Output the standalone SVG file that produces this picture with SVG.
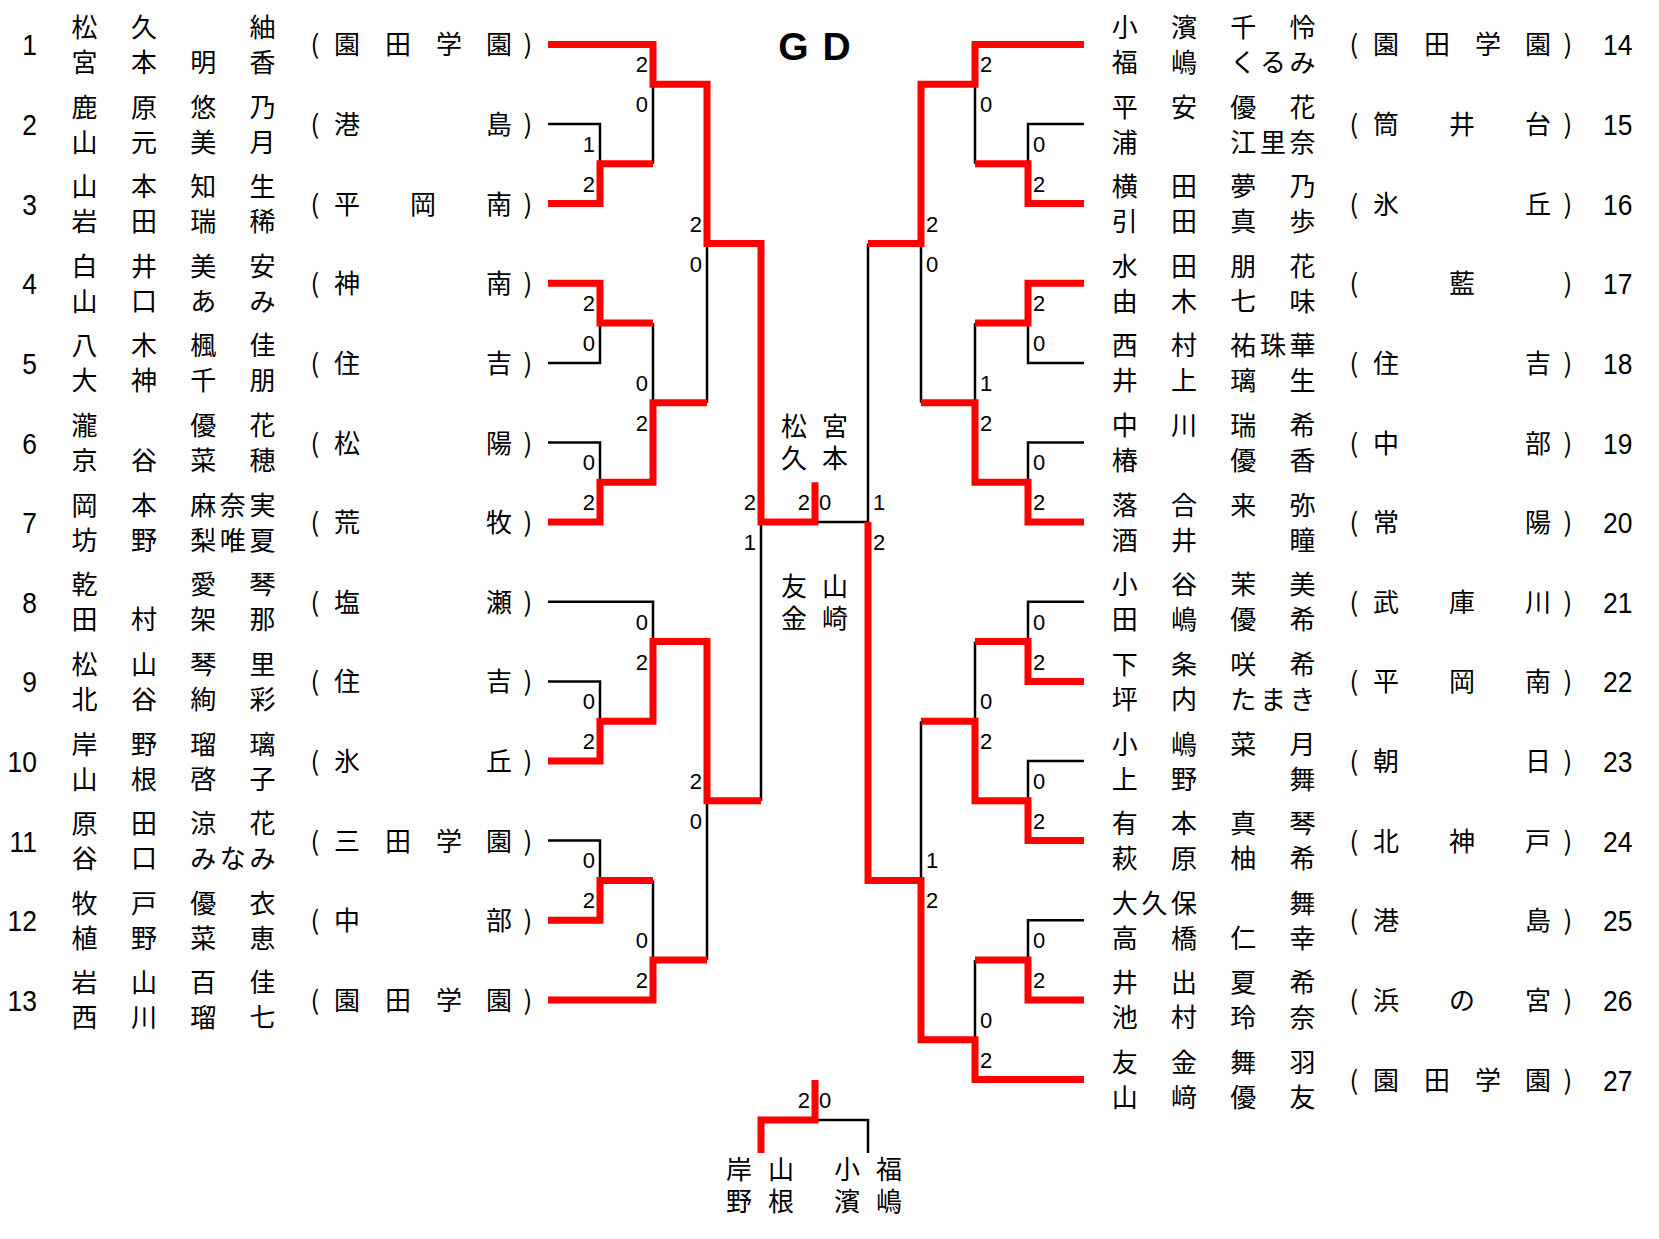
<svg xmlns="http://www.w3.org/2000/svg" width="1659" height="1239" viewBox="0 0 1659 1239">
<style>
.r{stroke:#ff0000;stroke-width:7;fill:none;stroke-linejoin:miter}
.k{stroke:#000;stroke-width:2.5;fill:none}
.n{font-family:'Noto Sans CJK JP','Noto Sans CJK SC',sans-serif;font-size:26px;text-anchor:middle;fill:#000}
.v{font-family:'Noto Sans CJK JP','Noto Sans CJK SC',sans-serif;font-size:26px;writing-mode:vertical-rl;text-anchor:start;letter-spacing:6px;fill:#000}
.num{font-family:'Liberation Sans Narrow','Liberation Sans',sans-serif;font-size:30px;fill:#000}
.nl{text-anchor:end}
.sl{font-family:'Liberation Sans Narrow','Liberation Sans',sans-serif;font-size:22px;text-anchor:end;fill:#000}
.sr{font-family:'Liberation Sans Narrow','Liberation Sans',sans-serif;font-size:22px;text-anchor:start;fill:#000}
.title{font-family:'Liberation Sans',Arial,sans-serif;font-size:39px;font-weight:bold;text-anchor:middle;fill:#000}
</style>
<rect width="1659" height="1239" fill="#fff"/>
<g id="title"><text class="title" y="60"><tspan x="793.5">G</tspan><tspan x="836.5">D</tspan></text></g>

<g id="connectors">
<g id="black-lines">
<path class="k" d="M548,124H600V163.8"/>
<path class="k" d="M548,362.9H600V323.1"/>
<path class="k" d="M548,442.5H600V482.3"/>
<path class="k" d="M548,601.8H653V641.6"/>
<path class="k" d="M548,681.4H600V721.2"/>
<path class="k" d="M548,840.6H600V880.4"/>
<path class="k" d="M653,84.2V163.8"/>
<path class="k" d="M653,323.1V402.7"/>
<path class="k" d="M653,880.4V960"/>
<path class="k" d="M707,243.5V402.7"/>
<path class="k" d="M707,800.8V960"/>
<path class="k" d="M761,522.1V800.8"/>
<path class="k" d="M815,522.1H868V243.5"/>
<path class="k" d="M1084,124H1028V163.8"/>
<path class="k" d="M1084,362.9H1028V323.1"/>
<path class="k" d="M1084,442.5H1028V482.3"/>
<path class="k" d="M1084,601.8H1028V641.6"/>
<path class="k" d="M1084,761H1028V800.8"/>
<path class="k" d="M1084,920.2H1028V960"/>
<path class="k" d="M975,84.2V163.8"/>
<path class="k" d="M975,323.1V402.7"/>
<path class="k" d="M975,641.6V721.2"/>
<path class="k" d="M975,960V1039.7"/>
<path class="k" d="M921,243.5V402.7"/>
<path class="k" d="M921,721.2V880.4"/>
<path class="k" d="M815,1120H868V1153"/>
</g>
<g id="red-lines">
<path class="r" d="M548,44.4H653V84.2H707V243.5H761V522.1H815V482.3"/>
<path class="r" d="M548,203.6H600V163.8H653"/>
<path class="r" d="M548,283.3H600V323.1H653"/>
<path class="r" d="M548,522.1H600V482.3H653V402.7H707"/>
<path class="r" d="M548,761H600V721.2H653V641.6H707V800.8H761"/>
<path class="r" d="M548,920.2H600V880.4H653"/>
<path class="r" d="M548,999.9H653V960H707"/>
<path class="r" d="M1084,44.4H975V84.2H921V243.5H868"/>
<path class="r" d="M1084,203.6H1028V163.8H975"/>
<path class="r" d="M1084,283.3H1028V323.1H975"/>
<path class="r" d="M1084,522.1H1028V482.3H975V402.7H921"/>
<path class="r" d="M1084,681.4H1028V641.6H975"/>
<path class="r" d="M1084,840.6H1028V800.8H975V721.2H921"/>
<path class="r" d="M1084,999.9H1028V960H975"/>
<path class="r" d="M1084,1079.5H975V1039.7H921V880.4H868V522.1"/>
<path class="r" d="M761,1153V1120H815V1080"/>
</g>
<g id="scores">
<text class="sl" x="595" y="151.8">1</text><text class="sl" x="595" y="191.8">2</text>
<text class="sl" x="595" y="311.1">2</text><text class="sl" x="595" y="351.1">0</text>
<text class="sl" x="595" y="470.3">0</text><text class="sl" x="595" y="510.3">2</text>
<text class="sl" x="595" y="709.2">0</text><text class="sl" x="595" y="749.2">2</text>
<text class="sl" x="595" y="868.4">0</text><text class="sl" x="595" y="908.4">2</text>
<text class="sl" x="648" y="72.2">2</text><text class="sl" x="648" y="112.2">0</text>
<text class="sl" x="648" y="390.7">0</text><text class="sl" x="648" y="430.7">2</text>
<text class="sl" x="648" y="629.6">0</text><text class="sl" x="648" y="669.6">2</text>
<text class="sl" x="648" y="948">0</text><text class="sl" x="648" y="988">2</text>
<text class="sl" x="702" y="231.5">2</text><text class="sl" x="702" y="271.5">0</text>
<text class="sl" x="702" y="788.8">2</text><text class="sl" x="702" y="828.8">0</text>
<text class="sl" x="756" y="510.1">2</text><text class="sl" x="756" y="550.1">1</text>
<text class="sr" x="1033" y="151.8">0</text><text class="sr" x="1033" y="191.8">2</text>
<text class="sr" x="1033" y="311.1">2</text><text class="sr" x="1033" y="351.1">0</text>
<text class="sr" x="1033" y="470.3">0</text><text class="sr" x="1033" y="510.3">2</text>
<text class="sr" x="1033" y="629.6">0</text><text class="sr" x="1033" y="669.6">2</text>
<text class="sr" x="1033" y="788.8">0</text><text class="sr" x="1033" y="828.8">2</text>
<text class="sr" x="1033" y="948">0</text><text class="sr" x="1033" y="988">2</text>
<text class="sr" x="980" y="72.2">2</text><text class="sr" x="980" y="112.2">0</text>
<text class="sr" x="980" y="390.7">1</text><text class="sr" x="980" y="430.7">2</text>
<text class="sr" x="980" y="709.2">0</text><text class="sr" x="980" y="749.2">2</text>
<text class="sr" x="980" y="1027.7">0</text><text class="sr" x="980" y="1067.7">2</text>
<text class="sr" x="926" y="231.5">2</text><text class="sr" x="926" y="271.5">0</text>
<text class="sr" x="926" y="868.4">1</text><text class="sr" x="926" y="908.4">2</text>
<text class="sr" x="873" y="510.1">1</text><text class="sr" x="873" y="550.1">2</text>
<text class="sl" x="810" y="510.1">2</text><text class="sr" x="819" y="510.1">0</text>
<text class="sl" x="810" y="1108">2</text><text class="sr" x="819" y="1108">0</text>
</g>
</g>

<g id="e1" transform="translate(0,44.4)"><text class="num nl" x="42" y="11" transform="scale(0.88,1)">1</text>
<text class="n" y="-7.5"><tspan x="84.6">松</tspan><tspan x="143.9">久</tspan><tspan x="262.4">紬</tspan></text>
<text class="n" y="27.5"><tspan x="84.6">宮</tspan><tspan x="143.9">本</tspan><tspan x="203.2">明</tspan><tspan x="262.4">香</tspan></text>
<text class="n" y="10"><tspan x="315">(</tspan><tspan x="347">園</tspan><tspan x="398">田</tspan><tspan x="449">学</tspan><tspan x="499">園</tspan><tspan x="528">)</tspan></text></g>
<g id="e2" transform="translate(0,124)"><text class="num nl" x="42" y="11" transform="scale(0.88,1)">2</text>
<text class="n" y="-7.5"><tspan x="84.6">鹿</tspan><tspan x="143.9">原</tspan><tspan x="203.2">悠</tspan><tspan x="262.4">乃</tspan></text>
<text class="n" y="27.5"><tspan x="84.6">山</tspan><tspan x="143.9">元</tspan><tspan x="203.2">美</tspan><tspan x="262.4">月</tspan></text>
<text class="n" y="10"><tspan x="315">(</tspan><tspan x="347">港</tspan><tspan x="499">島</tspan><tspan x="528">)</tspan></text></g>
<g id="e3" transform="translate(0,203.6)"><text class="num nl" x="42" y="11" transform="scale(0.88,1)">3</text>
<text class="n" y="-7.5"><tspan x="84.6">山</tspan><tspan x="143.9">本</tspan><tspan x="203.2">知</tspan><tspan x="262.4">生</tspan></text>
<text class="n" y="27.5"><tspan x="84.6">岩</tspan><tspan x="143.9">田</tspan><tspan x="203.2">瑞</tspan><tspan x="262.4">稀</tspan></text>
<text class="n" y="10"><tspan x="315">(</tspan><tspan x="347">平</tspan><tspan x="423">岡</tspan><tspan x="499">南</tspan><tspan x="528">)</tspan></text></g>
<g id="e4" transform="translate(0,283.3)"><text class="num nl" x="42" y="11" transform="scale(0.88,1)">4</text>
<text class="n" y="-7.5"><tspan x="84.6">白</tspan><tspan x="143.9">井</tspan><tspan x="203.2">美</tspan><tspan x="262.4">安</tspan></text>
<text class="n" y="27.5"><tspan x="84.6">山</tspan><tspan x="143.9">口</tspan><tspan x="203.2">あ</tspan><tspan x="262.4">み</tspan></text>
<text class="n" y="10"><tspan x="315">(</tspan><tspan x="347">神</tspan><tspan x="499">南</tspan><tspan x="528">)</tspan></text></g>
<g id="e5" transform="translate(0,362.9)"><text class="num nl" x="42" y="11" transform="scale(0.88,1)">5</text>
<text class="n" y="-7.5"><tspan x="84.6">八</tspan><tspan x="143.9">木</tspan><tspan x="203.2">楓</tspan><tspan x="262.4">佳</tspan></text>
<text class="n" y="27.5"><tspan x="84.6">大</tspan><tspan x="143.9">神</tspan><tspan x="203.2">千</tspan><tspan x="262.4">朋</tspan></text>
<text class="n" y="10"><tspan x="315">(</tspan><tspan x="347">住</tspan><tspan x="499">吉</tspan><tspan x="528">)</tspan></text></g>
<g id="e6" transform="translate(0,442.5)"><text class="num nl" x="42" y="11" transform="scale(0.88,1)">6</text>
<text class="n" y="-7.5"><tspan x="84.6">瀧</tspan><tspan x="203.2">優</tspan><tspan x="262.4">花</tspan></text>
<text class="n" y="27.5"><tspan x="84.6">京</tspan><tspan x="143.9">谷</tspan><tspan x="203.2">菜</tspan><tspan x="262.4">穂</tspan></text>
<text class="n" y="10"><tspan x="315">(</tspan><tspan x="347">松</tspan><tspan x="499">陽</tspan><tspan x="528">)</tspan></text></g>
<g id="e7" transform="translate(0,522.1)"><text class="num nl" x="42" y="11" transform="scale(0.88,1)">7</text>
<text class="n" y="-7.5"><tspan x="84.6">岡</tspan><tspan x="143.9">本</tspan><tspan x="203.2">麻</tspan><tspan x="232.8">奈</tspan><tspan x="262.4">実</tspan></text>
<text class="n" y="27.5"><tspan x="84.6">坊</tspan><tspan x="143.9">野</tspan><tspan x="203.2">梨</tspan><tspan x="232.8">唯</tspan><tspan x="262.4">夏</tspan></text>
<text class="n" y="10"><tspan x="315">(</tspan><tspan x="347">荒</tspan><tspan x="499">牧</tspan><tspan x="528">)</tspan></text></g>
<g id="e8" transform="translate(0,601.8)"><text class="num nl" x="42" y="11" transform="scale(0.88,1)">8</text>
<text class="n" y="-7.5"><tspan x="84.6">乾</tspan><tspan x="203.2">愛</tspan><tspan x="262.4">琴</tspan></text>
<text class="n" y="27.5"><tspan x="84.6">田</tspan><tspan x="143.9">村</tspan><tspan x="203.2">架</tspan><tspan x="262.4">那</tspan></text>
<text class="n" y="10"><tspan x="315">(</tspan><tspan x="347">塩</tspan><tspan x="499">瀬</tspan><tspan x="528">)</tspan></text></g>
<g id="e9" transform="translate(0,681.4)"><text class="num nl" x="42" y="11" transform="scale(0.88,1)">9</text>
<text class="n" y="-7.5"><tspan x="84.6">松</tspan><tspan x="143.9">山</tspan><tspan x="203.2">琴</tspan><tspan x="262.4">里</tspan></text>
<text class="n" y="27.5"><tspan x="84.6">北</tspan><tspan x="143.9">谷</tspan><tspan x="203.2">絢</tspan><tspan x="262.4">彩</tspan></text>
<text class="n" y="10"><tspan x="315">(</tspan><tspan x="347">住</tspan><tspan x="499">吉</tspan><tspan x="528">)</tspan></text></g>
<g id="e10" transform="translate(0,761)"><text class="num nl" x="42" y="11" transform="scale(0.88,1)">10</text>
<text class="n" y="-7.5"><tspan x="84.6">岸</tspan><tspan x="143.9">野</tspan><tspan x="203.2">瑠</tspan><tspan x="262.4">璃</tspan></text>
<text class="n" y="27.5"><tspan x="84.6">山</tspan><tspan x="143.9">根</tspan><tspan x="203.2">啓</tspan><tspan x="262.4">子</tspan></text>
<text class="n" y="10"><tspan x="315">(</tspan><tspan x="347">氷</tspan><tspan x="499">丘</tspan><tspan x="528">)</tspan></text></g>
<g id="e11" transform="translate(0,840.6)"><text class="num nl" x="42" y="11" transform="scale(0.88,1)">11</text>
<text class="n" y="-7.5"><tspan x="84.6">原</tspan><tspan x="143.9">田</tspan><tspan x="203.2">涼</tspan><tspan x="262.4">花</tspan></text>
<text class="n" y="27.5"><tspan x="84.6">谷</tspan><tspan x="143.9">口</tspan><tspan x="203.2">み</tspan><tspan x="232.8">な</tspan><tspan x="262.4">み</tspan></text>
<text class="n" y="10"><tspan x="315">(</tspan><tspan x="347">三</tspan><tspan x="398">田</tspan><tspan x="449">学</tspan><tspan x="499">園</tspan><tspan x="528">)</tspan></text></g>
<g id="e12" transform="translate(0,920.2)"><text class="num nl" x="42" y="11" transform="scale(0.88,1)">12</text>
<text class="n" y="-7.5"><tspan x="84.6">牧</tspan><tspan x="143.9">戸</tspan><tspan x="203.2">優</tspan><tspan x="262.4">衣</tspan></text>
<text class="n" y="27.5"><tspan x="84.6">植</tspan><tspan x="143.9">野</tspan><tspan x="203.2">菜</tspan><tspan x="262.4">恵</tspan></text>
<text class="n" y="10"><tspan x="315">(</tspan><tspan x="347">中</tspan><tspan x="499">部</tspan><tspan x="528">)</tspan></text></g>
<g id="e13" transform="translate(0,999.9)"><text class="num nl" x="42" y="11" transform="scale(0.88,1)">13</text>
<text class="n" y="-7.5"><tspan x="84.6">岩</tspan><tspan x="143.9">山</tspan><tspan x="203.2">百</tspan><tspan x="262.4">佳</tspan></text>
<text class="n" y="27.5"><tspan x="84.6">西</tspan><tspan x="143.9">川</tspan><tspan x="203.2">瑠</tspan><tspan x="262.4">七</tspan></text>
<text class="n" y="10"><tspan x="315">(</tspan><tspan x="347">園</tspan><tspan x="398">田</tspan><tspan x="449">学</tspan><tspan x="499">園</tspan><tspan x="528">)</tspan></text></g>

<g id="e14" transform="translate(0,44.4)"><text class="num" x="1821.6" y="11" transform="scale(0.88,1)">14</text>
<text class="n" y="-7.5"><tspan x="1124.8">小</tspan><tspan x="1184">濱</tspan><tspan x="1243.3">千</tspan><tspan x="1302.5">怜</tspan></text>
<text class="n" y="27.5"><tspan x="1124.8">福</tspan><tspan x="1184">嶋</tspan><tspan x="1243.3">く</tspan><tspan x="1272.9">る</tspan><tspan x="1302.5">み</tspan></text>
<text class="n" y="10"><tspan x="1354">(</tspan><tspan x="1386">園</tspan><tspan x="1437">田</tspan><tspan x="1488">学</tspan><tspan x="1538">園</tspan><tspan x="1568">)</tspan></text></g>
<g id="e15" transform="translate(0,124)"><text class="num" x="1821.6" y="11" transform="scale(0.88,1)">15</text>
<text class="n" y="-7.5"><tspan x="1124.8">平</tspan><tspan x="1184">安</tspan><tspan x="1243.3">優</tspan><tspan x="1302.5">花</tspan></text>
<text class="n" y="27.5"><tspan x="1124.8">浦</tspan><tspan x="1243.3">江</tspan><tspan x="1272.9">里</tspan><tspan x="1302.5">奈</tspan></text>
<text class="n" y="10"><tspan x="1354">(</tspan><tspan x="1386">筒</tspan><tspan x="1462">井</tspan><tspan x="1538">台</tspan><tspan x="1568">)</tspan></text></g>
<g id="e16" transform="translate(0,203.6)"><text class="num" x="1821.6" y="11" transform="scale(0.88,1)">16</text>
<text class="n" y="-7.5"><tspan x="1124.8">横</tspan><tspan x="1184">田</tspan><tspan x="1243.3">夢</tspan><tspan x="1302.5">乃</tspan></text>
<text class="n" y="27.5"><tspan x="1124.8">引</tspan><tspan x="1184">田</tspan><tspan x="1243.3">真</tspan><tspan x="1302.5">歩</tspan></text>
<text class="n" y="10"><tspan x="1354">(</tspan><tspan x="1386">氷</tspan><tspan x="1538">丘</tspan><tspan x="1568">)</tspan></text></g>
<g id="e17" transform="translate(0,283.3)"><text class="num" x="1821.6" y="11" transform="scale(0.88,1)">17</text>
<text class="n" y="-7.5"><tspan x="1124.8">水</tspan><tspan x="1184">田</tspan><tspan x="1243.3">朋</tspan><tspan x="1302.5">花</tspan></text>
<text class="n" y="27.5"><tspan x="1124.8">由</tspan><tspan x="1184">木</tspan><tspan x="1243.3">七</tspan><tspan x="1302.5">味</tspan></text>
<text class="n" y="10"><tspan x="1354">(</tspan><tspan x="1462">藍</tspan><tspan x="1568">)</tspan></text></g>
<g id="e18" transform="translate(0,362.9)"><text class="num" x="1821.6" y="11" transform="scale(0.88,1)">18</text>
<text class="n" y="-7.5"><tspan x="1124.8">西</tspan><tspan x="1184">村</tspan><tspan x="1243.3">祐</tspan><tspan x="1272.9">珠</tspan><tspan x="1302.5">華</tspan></text>
<text class="n" y="27.5"><tspan x="1124.8">井</tspan><tspan x="1184">上</tspan><tspan x="1243.3">璃</tspan><tspan x="1302.5">生</tspan></text>
<text class="n" y="10"><tspan x="1354">(</tspan><tspan x="1386">住</tspan><tspan x="1538">吉</tspan><tspan x="1568">)</tspan></text></g>
<g id="e19" transform="translate(0,442.5)"><text class="num" x="1821.6" y="11" transform="scale(0.88,1)">19</text>
<text class="n" y="-7.5"><tspan x="1124.8">中</tspan><tspan x="1184">川</tspan><tspan x="1243.3">瑞</tspan><tspan x="1302.5">希</tspan></text>
<text class="n" y="27.5"><tspan x="1124.8">椿</tspan><tspan x="1243.3">優</tspan><tspan x="1302.5">香</tspan></text>
<text class="n" y="10"><tspan x="1354">(</tspan><tspan x="1386">中</tspan><tspan x="1538">部</tspan><tspan x="1568">)</tspan></text></g>
<g id="e20" transform="translate(0,522.1)"><text class="num" x="1821.6" y="11" transform="scale(0.88,1)">20</text>
<text class="n" y="-7.5"><tspan x="1124.8">落</tspan><tspan x="1184">合</tspan><tspan x="1243.3">来</tspan><tspan x="1302.5">弥</tspan></text>
<text class="n" y="27.5"><tspan x="1124.8">酒</tspan><tspan x="1184">井</tspan><tspan x="1302.5">瞳</tspan></text>
<text class="n" y="10"><tspan x="1354">(</tspan><tspan x="1386">常</tspan><tspan x="1538">陽</tspan><tspan x="1568">)</tspan></text></g>
<g id="e21" transform="translate(0,601.8)"><text class="num" x="1821.6" y="11" transform="scale(0.88,1)">21</text>
<text class="n" y="-7.5"><tspan x="1124.8">小</tspan><tspan x="1184">谷</tspan><tspan x="1243.3">茉</tspan><tspan x="1302.5">美</tspan></text>
<text class="n" y="27.5"><tspan x="1124.8">田</tspan><tspan x="1184">嶋</tspan><tspan x="1243.3">優</tspan><tspan x="1302.5">希</tspan></text>
<text class="n" y="10"><tspan x="1354">(</tspan><tspan x="1386">武</tspan><tspan x="1462">庫</tspan><tspan x="1538">川</tspan><tspan x="1568">)</tspan></text></g>
<g id="e22" transform="translate(0,681.4)"><text class="num" x="1821.6" y="11" transform="scale(0.88,1)">22</text>
<text class="n" y="-7.5"><tspan x="1124.8">下</tspan><tspan x="1184">条</tspan><tspan x="1243.3">咲</tspan><tspan x="1302.5">希</tspan></text>
<text class="n" y="27.5"><tspan x="1124.8">坪</tspan><tspan x="1184">内</tspan><tspan x="1243.3">た</tspan><tspan x="1272.9">ま</tspan><tspan x="1302.5">き</tspan></text>
<text class="n" y="10"><tspan x="1354">(</tspan><tspan x="1386">平</tspan><tspan x="1462">岡</tspan><tspan x="1538">南</tspan><tspan x="1568">)</tspan></text></g>
<g id="e23" transform="translate(0,761)"><text class="num" x="1821.6" y="11" transform="scale(0.88,1)">23</text>
<text class="n" y="-7.5"><tspan x="1124.8">小</tspan><tspan x="1184">嶋</tspan><tspan x="1243.3">菜</tspan><tspan x="1302.5">月</tspan></text>
<text class="n" y="27.5"><tspan x="1124.8">上</tspan><tspan x="1184">野</tspan><tspan x="1302.5">舞</tspan></text>
<text class="n" y="10"><tspan x="1354">(</tspan><tspan x="1386">朝</tspan><tspan x="1538">日</tspan><tspan x="1568">)</tspan></text></g>
<g id="e24" transform="translate(0,840.6)"><text class="num" x="1821.6" y="11" transform="scale(0.88,1)">24</text>
<text class="n" y="-7.5"><tspan x="1124.8">有</tspan><tspan x="1184">本</tspan><tspan x="1243.3">真</tspan><tspan x="1302.5">琴</tspan></text>
<text class="n" y="27.5"><tspan x="1124.8">萩</tspan><tspan x="1184">原</tspan><tspan x="1243.3">柚</tspan><tspan x="1302.5">希</tspan></text>
<text class="n" y="10"><tspan x="1354">(</tspan><tspan x="1386">北</tspan><tspan x="1462">神</tspan><tspan x="1538">戸</tspan><tspan x="1568">)</tspan></text></g>
<g id="e25" transform="translate(0,920.2)"><text class="num" x="1821.6" y="11" transform="scale(0.88,1)">25</text>
<text class="n" y="-7.5"><tspan x="1124.8">大</tspan><tspan x="1154.4">久</tspan><tspan x="1184">保</tspan><tspan x="1302.5">舞</tspan></text>
<text class="n" y="27.5"><tspan x="1124.8">高</tspan><tspan x="1184">橋</tspan><tspan x="1243.3">仁</tspan><tspan x="1302.5">幸</tspan></text>
<text class="n" y="10"><tspan x="1354">(</tspan><tspan x="1386">港</tspan><tspan x="1538">島</tspan><tspan x="1568">)</tspan></text></g>
<g id="e26" transform="translate(0,999.9)"><text class="num" x="1821.6" y="11" transform="scale(0.88,1)">26</text>
<text class="n" y="-7.5"><tspan x="1124.8">井</tspan><tspan x="1184">出</tspan><tspan x="1243.3">夏</tspan><tspan x="1302.5">希</tspan></text>
<text class="n" y="27.5"><tspan x="1124.8">池</tspan><tspan x="1184">村</tspan><tspan x="1243.3">玲</tspan><tspan x="1302.5">奈</tspan></text>
<text class="n" y="10"><tspan x="1354">(</tspan><tspan x="1386">浜</tspan><tspan x="1462">の</tspan><tspan x="1538">宮</tspan><tspan x="1568">)</tspan></text></g>
<g id="e27" transform="translate(0,1079.5)"><text class="num" x="1821.6" y="11" transform="scale(0.88,1)">27</text>
<text class="n" y="-7.5"><tspan x="1124.8">友</tspan><tspan x="1184">金</tspan><tspan x="1243.3">舞</tspan><tspan x="1302.5">羽</tspan></text>
<text class="n" y="27.5"><tspan x="1124.8">山</tspan><tspan x="1184">﨑</tspan><tspan x="1243.3">優</tspan><tspan x="1302.5">友</tspan></text>
<text class="n" y="10"><tspan x="1354">(</tspan><tspan x="1386">園</tspan><tspan x="1437">田</tspan><tspan x="1488">学</tspan><tspan x="1538">園</tspan><tspan x="1568">)</tspan></text></g>

<g id="champion"><text class="v" x="794" y="413.4" style="letter-spacing:5.6px">松久</text><text class="v" x="835" y="413.4" style="letter-spacing:5.6px">宮本</text></g>
<g id="runner-up"><text class="v" x="794" y="573">友金</text><text class="v" x="835" y="573">山崎</text></g>
<g id="third-left"><text class="v" x="739" y="1156">岸野</text><text class="v" x="781" y="1156">山根</text></g>
<g id="third-right"><text class="v" x="847" y="1156">小濱</text><text class="v" x="889" y="1156">福嶋</text></g>
</svg>
